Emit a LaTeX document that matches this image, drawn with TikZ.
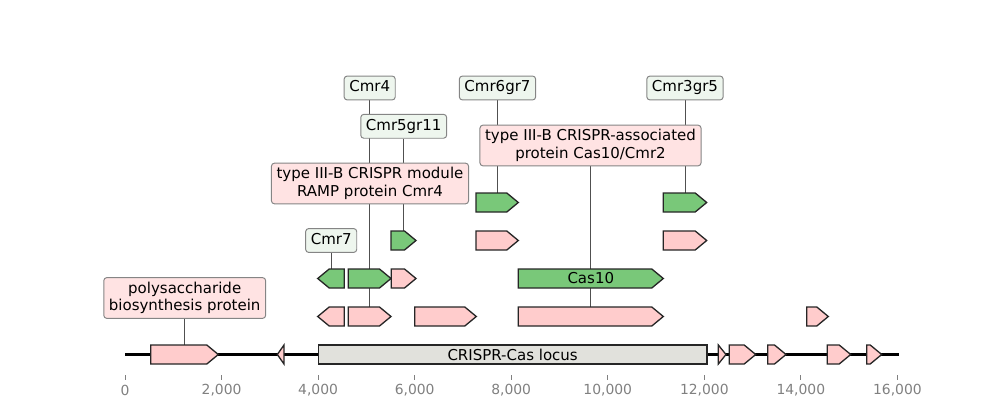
\documentclass[tikz,border=0pt]{standalone}
\usepackage{fontspec}
\setmainfont{DejaVu Sans}
\usetikzlibrary{backgrounds}
\definecolor{gpink}{HTML}{FFCCCC}
\definecolor{ggreen}{HTML}{79C879}
\definecolor{lpink}{HTML}{FFE3E3}
\definecolor{lgreen}{HTML}{EEF6EE}
\definecolor{locusgray}{HTML}{E1E1DC}
\definecolor{boxedge}{HTML}{858585}
\definecolor{leader}{HTML}{505050}
\definecolor{tickgray}{HTML}{808080}
\tikzset{
  genestyle/.style={draw=black!85, line width=0.95pt, line join=miter},
  labfont/.style={font=\fontsize{10.8}{12.5}\selectfont},
  labbox/.style={labfont, draw=boxedge, line width=0.7pt, rounded corners=2.2pt, inner xsep=3.7pt, inner ysep=3.2pt, align=center},
  oneline/.style={text height=8.2pt, text depth=2.6pt},
  pinklab/.style={labbox, fill=lpink},
  greenlab/.style={labbox, fill=lgreen, oneline},
  leaderline/.style={draw=leader, line width=0.55pt},
  ticklab/.style={text=tickgray, font=\fontsize{10}{12}\selectfont, inner sep=0pt},
}
\newcommand\fgene[5]{%
  \pgfmathsetmacro\gw{#3-#2}%
  \pgfmathsetmacro\gh{min(11.5,\gw)}%
  \filldraw[genestyle, fill=#5] (#2,#4-9.5) -- (#3-\gh,#4-9.5) -- (#3,#4) -- (#3-\gh,#4+9.5) -- (#2,#4+9.5) -- cycle;
  \node[inner sep=0pt, minimum width=\gw*0.72pt, minimum height=13.68pt] (#1) at ({(#2+#3)/2},#4) {};
}
\newcommand\rgene[5]{%
  \pgfmathsetmacro\gw{#3-#2}%
  \pgfmathsetmacro\gh{min(11.5,\gw)}%
  \filldraw[genestyle, fill=#5] (#2,#4) -- (#2+\gh,#4-9.5) -- (#3,#4-9.5) -- (#3,#4+9.5) -- (#2+\gh,#4+9.5) -- cycle;
  \node[inner sep=0pt, minimum width=\gw*0.72pt, minimum height=13.68pt] (#1) at ({(#2+#3)/2},#4) {};
}
\begin{document}
\begin{tikzpicture}[x=0.72pt, y=-0.72pt]
\useasboundingbox (0,0) rectangle (1000,420);
% axis line
\coordinate (axL) at (125,354.5);
\coordinate (axR) at (899,354.5);
\draw[line width=1.5pt, black] (axL) -- (axR);
% baseline genes
\fgene{g1}{150.7}{218.3}{354.5}{gpink}
\rgene{g2}{277.3}{284}{354.5}{gpink}
\node[genestyle, labfont, fill=locusgray, minimum width=(707-318.3)*0.72pt, minimum height=13.68pt, inner sep=0pt] (locus) at (512.65,354.5) {CRISPR-Cas locus};
\fgene{g3}{718.3}{726}{354.5}{gpink}
\fgene{g4}{729.2}{755.7}{354.5}{gpink}
\fgene{g5}{767.7}{786}{354.5}{gpink}
\fgene{g6}{827.3}{850.7}{354.5}{gpink}
\fgene{g7}{866.7}{881.7}{354.5}{gpink}
% row 1
\rgene{ra1}{317.7}{344.3}{316.5}{gpink}
\fgene{ra2}{348.3}{391}{316.5}{gpink}
\fgene{ra3}{414.7}{476.3}{316.5}{gpink}
\fgene{ra4}{518.3}{663.3}{316.5}{gpink}
\fgene{ra5}{806.7}{828.3}{316.5}{gpink}
% row 2
\rgene{rb1}{317.7}{344.3}{278.5}{ggreen}
\fgene{rb2}{348.3}{391}{278.5}{ggreen}
\fgene{rb3}{391.3}{416}{278.5}{gpink}
\fgene{rb4}{518.3}{663.3}{278.5}{ggreen}
\node[labfont, inner sep=0pt] (cas10) at (590.8,278.5) {Cas10};
% row 3
\fgene{rc1}{391}{416}{240.5}{ggreen}
\fgene{rc2}{476}{518.3}{240.5}{gpink}
\fgene{rc3}{663.3}{706.7}{240.5}{gpink}
% row 4
\fgene{rd1}{476}{518.3}{202.5}{ggreen}
\fgene{rd2}{663.3}{706.7}{202.5}{ggreen}
% labels
\node[pinklab] (l1) at (184.7,298) {polysaccharide\\biosynthesis protein};
\node[greenlab] (l2) at (331.2,240.5) {Cmr7};
\node[greenlab] (l3) at (369.7,88) {Cmr4};
\node[greenlab] (l4) at (403.7,126.3) {Cmr5gr11};
\node[pinklab] (l5) at (370,183.5) {type III-B CRISPR module\\RAMP protein Cmr4};
\node[greenlab] (l6) at (497.5,88) {Cmr6gr7};
\node[pinklab] (l7) at (590.5,145.5) {type III-B CRISPR-associated\\protein Cas10/Cmr2};
\node[greenlab] (l8) at (685,88) {Cmr3gr5};
% leaders
\begin{pgfonlayer}{background}
\draw[leaderline] (l1.south -| g1.north) -- (g1.north);
\draw[leaderline] (l2.south -| rb1.north) -- (rb1.north);
\draw[leaderline] (l3.south -| rb2.north) -- (rb2.north);
\draw[leaderline] (l4.south -| rc1.north) -- (rc1.north);
\draw[leaderline] (l5.south -| ra2.north) -- (ra2.north);
\draw[leaderline] (l6.south -| rd1.north) -- (rd1.north);
\draw[leaderline] (l7.south -| ra4.north) -- (ra4.north);
\draw[leaderline] (l8.south -| rd2.north) -- (rd2.north);
\end{pgfonlayer}
% ticks
\foreach \k in {0,...,8}{
  \pgfmathsetmacro\tx{125+\k*96.55}
  \pgfmathtruncatemacro\tv{2*\k}
  \draw[tickgray, line width=0.6pt] (\tx,375) -- (\tx,379.5);
  \node[ticklab] (t\k) at (\tx,390) {\ifnum\k=0 0\else\tv,000\fi};
}
\end{tikzpicture}
\end{document}
